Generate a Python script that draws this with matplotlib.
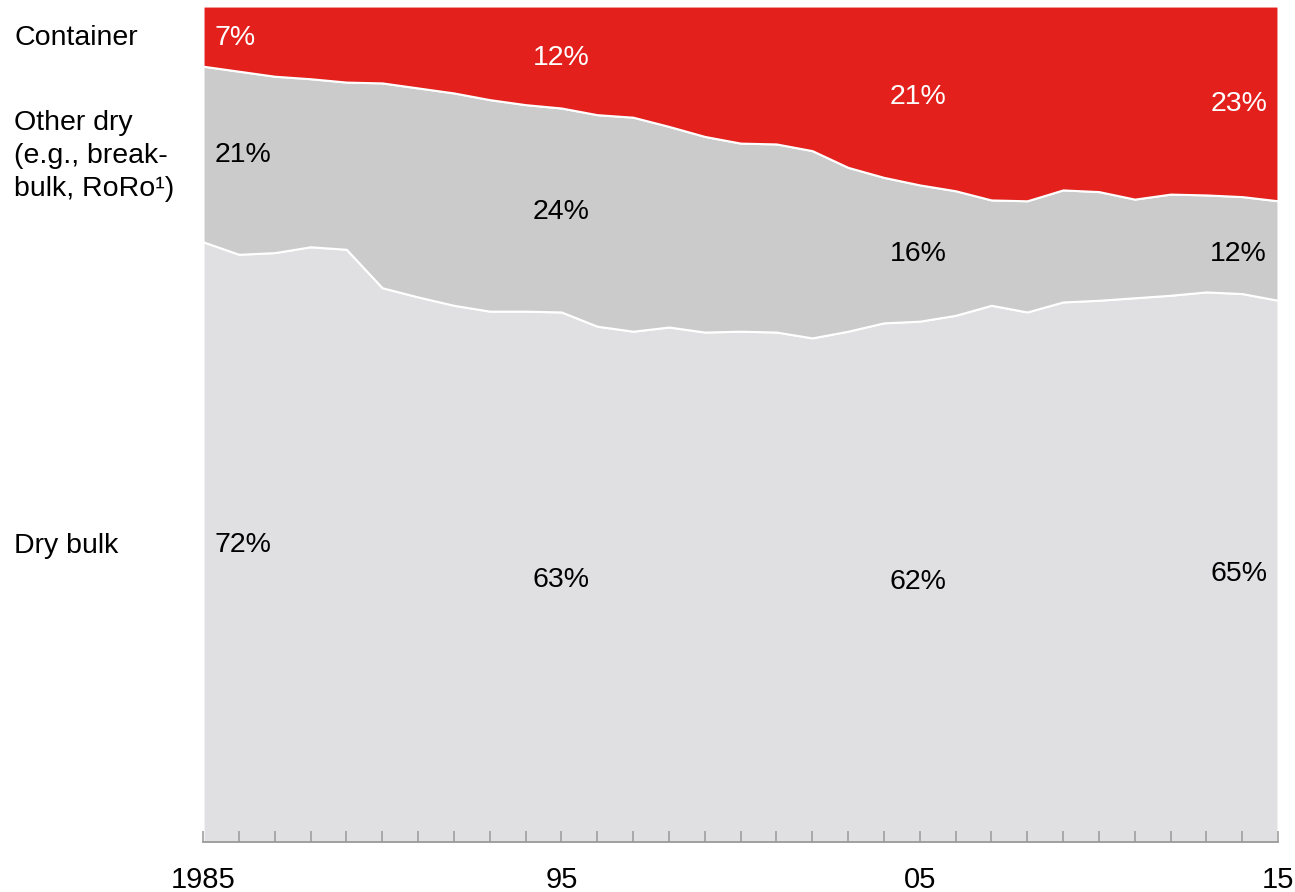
import matplotlib.pyplot as plt
import numpy as np

plt.rcParams['font.family'] = ['Liberation Sans', 'DejaVu Sans']

years = np.arange(1985, 2016)
dry_bulk = [71.8, 70.3, 70.5, 71.2, 70.9, 66.3, 65.2, 64.2, 63.5, 63.5, 63.4,
            61.7, 61.1, 61.6, 61.0, 61.1, 61.0, 60.3, 61.1, 62.1, 62.3,
            63.0, 64.2, 63.4, 64.6, 64.8, 65.1, 65.4, 65.8, 65.6, 64.8]
container = [7.2, 7.8, 8.4, 8.7, 9.1, 9.2, 9.8, 10.4, 11.2, 11.8, 12.2,
             13.0, 13.3, 14.4, 15.6, 16.4, 16.5, 17.3, 19.3, 20.5, 21.4,
             22.1, 23.2, 23.3, 22.0, 22.2, 23.1, 22.5, 22.6, 22.8, 23.3]
other_dry = [100 - d - c for d, c in zip(dry_bulk, container)]

label_years = [1985, 1995, 2005, 2015]
container_lbl = ['7%', '12%', '21%', '23%']
other_lbl = ['21%', '24%', '16%', '12%']
dry_lbl = ['72%', '63%', '62%', '65%']
tick_labels = ['1985', '95', '05', '15']

red = '#e3201b'
grey = '#cbcbcb'
light = '#e0dfe1'
fs = 20.5

fig = plt.figure(figsize=(12.95, 8.92), dpi=100)
ax = fig.add_axes([203/1295, 50/892, 1075/1295, 836/892])

ax.stackplot(years, dry_bulk, other_dry, container,
             colors=[light, grey, red], edgecolor='white', linewidth=1.5)
ax.set_xlim(1985, 2015)
ax.set_ylim(0, 100)

for s in ['left', 'right', 'top']:
    ax.spines[s].set_visible(False)
ax.spines['bottom'].set_color('#999999')
ax.spines['bottom'].set_linewidth(1.3)
ax.set_yticks([])
ax.set_xticks(label_years)
ax.set_xticklabels(tick_labels, fontsize=21)
ax.set_xticks(years, minor=True)
ax.tick_params(axis='x', which='both', direction='in', length=8,
               width=1.1, color='#999999', pad=17)

# in-chart labels, pixel rows from the reference
px_x = [215, 561, 918, 1267]
aligns = ['left', 'center', 'center', 'right']
rows = {
    'container': [38, 58, 97, 104],
    'other': [155, 212, 254, 254],
    'dry': [545, 580, 582, 574],
}

def to_data(px, py):
    return 1985 + (px - 203) / 1075 * 30, (842 - py) / 8.36

for i in range(4):
    for key, lbls, col in [('container', container_lbl, 'white'),
                           ('other', other_lbl, 'black'),
                           ('dry', dry_lbl, 'black')]:
        x, y = to_data(px_x[i], rows[key][i])
        ax.text(x, y, lbls[i], ha=aligns[i], va='center', fontsize=fs,
                color=col)

fig.text(14/1295, 1 - 38/892, 'Container', fontsize=fs, va='center')
fig.text(14/1295, 1 - 156/892, 'Other dry\n(e.g., break-\nbulk, RoRo\u00b9)',
         fontsize=fs, va='center', linespacing=1.36)
fig.text(14/1295, 1 - 546/892, 'Dry bulk', fontsize=fs, va='center')

fig.savefig('out.png', dpi=100)
